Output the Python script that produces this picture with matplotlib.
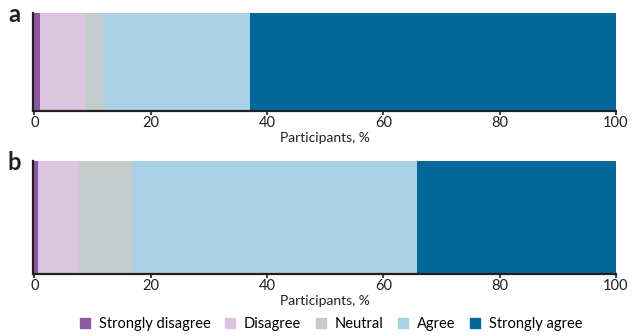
import matplotlib
matplotlib.use("Agg")
import matplotlib.pyplot as plt
import matplotlib.patches as patches

plt.rcParams['font.family'] = ['Lato', 'DejaVu Sans']

# Response categories and shares (% of participants) per panel
categories = ['Strongly disagree', 'Disagree', 'Neutral', 'Agree', 'Strongly agree']
colors = ['#8c5aa5', '#dcc3df', '#c5cbcb', '#a9d0e4', '#03679a']
panel_a = [1.0, 7.7, 3.2, 25.2, 62.9]
panel_b = [0.7, 7.0, 9.0, 49.1, 34.2]
ticks = [0, 20, 40, 60, 80, 100]

fig = plt.figure(figsize=(6.39, 3.36), dpi=100)
ax_a = fig.add_axes([0.052, 0.670, 0.912, 0.291])
ax_b = fig.add_axes([0.052, 0.185, 0.912, 0.336])


def stacked_bar(ax, values, letter):
    left = 0
    for val, col in zip(values, colors):
        ax.barh(0, val, left=left, height=1.0, color=col, linewidth=0)
        left += val
    ax.set_xlim(-0.2, 100)
    ax.set_ylim(-0.5, 0.5)
    ax.set_yticks([])
    ax.set_xticks(ticks)
    ax.tick_params(axis='x', length=3, width=1.2, pad=1, labelsize=10.5,
                   colors='#231f20')
    for side in ['top', 'right']:
        ax.spines[side].set_visible(False)
    for side in ['left', 'bottom']:
        ax.spines[side].set_linewidth(1.6)
        ax.spines[side].set_color('#231f20')
    ax.set_xlabel('Participants, %', fontsize=10, labelpad=1, color='#231f20')
    ax.text(-0.033, 0.99, letter, transform=ax.transAxes, fontsize=17,
            fontweight='bold', ha='center', va='center', color='#231f20')


stacked_bar(ax_a, panel_a, 'a')
stacked_bar(ax_b, panel_b, 'b')

handles = [patches.Patch(color=c, label=l) for c, l in zip(colors, categories)]
fig.legend(handles=handles, loc='lower center', bbox_to_anchor=(0.518, -0.025),
           ncol=5, frameon=False, fontsize=10.5, handlelength=0.7,
           handleheight=0.7, handletextpad=0.6, columnspacing=1.0)

fig.savefig('out.png', dpi=100)
